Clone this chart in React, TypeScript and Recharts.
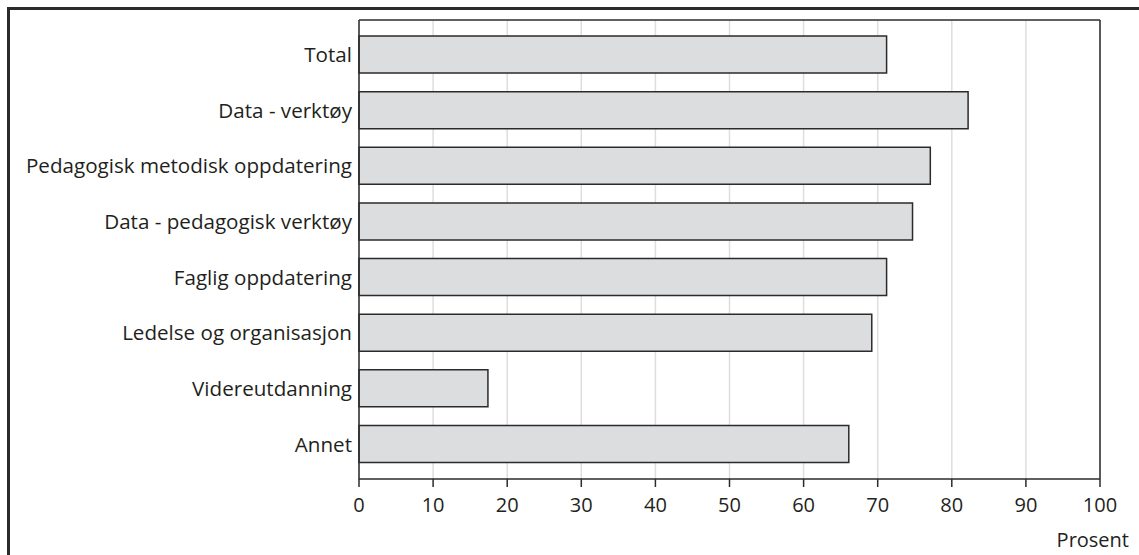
import { BarChart, Bar, XAxis, YAxis, CartesianGrid, ReferenceLine } from "recharts";

const categories = [
  "Total",
  "Data - verktøy",
  "Pedagogisk metodisk oppdatering",
  "Data - pedagogisk verktøy",
  "Faglig oppdatering",
  "Ledelse og organisasjon",
  "Videreutdanning",
  "Annet",
];
const values = [71.2, 82.2, 77.1, 74.7, 71.2, 69.2, 17.4, 66.1];
const xTicks = [0, 10, 20, 30, 40, 50, 60, 70, 80, 90, 100];

const data = categories.map((name, i) => ({ name, value: values[i] }));

const font = "'Open Sans', sans-serif";
const textColor = "#231f20";
const lineColor = "#2b2b2b";

export default function App() {
  return (
    <div style={{ position: "absolute", left: 0, top: 0, width: 1139, height: 555, overflow: "hidden", fontFamily: font }}>
      <div
        style={{
          position: "absolute",
          left: 7,
          top: 7,
          width: 1132,
          height: 548,
          borderLeft: `3px solid ${lineColor}`,
          borderTop: `3px solid ${lineColor}`,
          boxSizing: "border-box",
        }}
      />
      <div style={{ position: "absolute", left: 0, top: 0 }}>
        <BarChart
          width={1139}
          height={555}
          data={data}
          layout="vertical"
          margin={{ top: 19, right: 39, bottom: 6, left: 0 }}
        >
          <CartesianGrid horizontal={false} stroke="#dedede" strokeWidth={1.5} />
          <XAxis
            type="number"
            domain={[0, 100]}
            ticks={xTicks}
            interval={0}
            height={70}
            tickSize={8}
            tickMargin={11}
            stroke={lineColor}
            strokeWidth={1.5}
            tick={{ fill: textColor, fontSize: 20, fontFamily: font }}
            label={{
              value: "Prosent",
              position: "insideBottomRight",
              offset: 0,
              dx: 29,
              dy: -2,
              fill: textColor,
              fontSize: 20,
              fontFamily: font,
            }}
          />
          <XAxis
            xAxisId="top"
            orientation="top"
            type="number"
            domain={[0, 100]}
            height={1}
            tick={false}
            tickLine={false}
            stroke={lineColor}
            strokeWidth={1.5}
          />
          <YAxis
            type="category"
            dataKey="name"
            width={359}
            interval={0}
            padding={{ top: 7, bottom: 7 }}
            tickLine={false}
            tickSize={0}
            tickMargin={7}
            stroke={lineColor}
            strokeWidth={1.5}
            tick={{ fill: textColor, fontSize: 20.6, fontFamily: font }}
          />
          <ReferenceLine x={100} stroke={lineColor} strokeWidth={1.5} />
          <Bar
            dataKey="value"
            barSize={37}
            fill="#dcdddf"
            stroke={lineColor}
            strokeWidth={1.5}
            isAnimationActive={false}
          />
        </BarChart>
      </div>
    </div>
  );
}
